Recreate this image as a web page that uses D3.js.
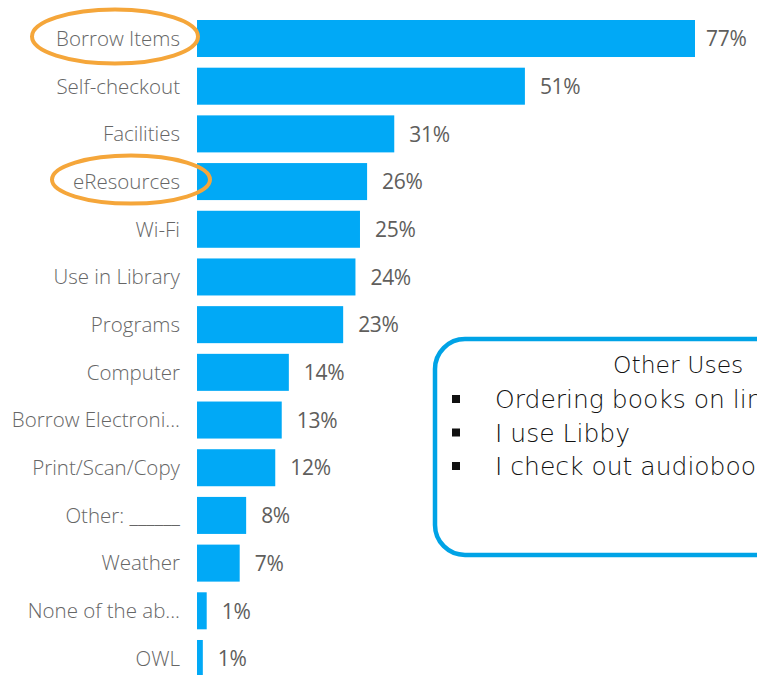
<!DOCTYPE html>
<html>
<head>
<meta charset="utf-8">
<script src="https://cdn.jsdelivr.net/npm/d3@7"></script>
<style>
  body { margin: 0; background: #fff; }
  svg { display: block; }
  .cat { font-family: 'Open Sans', sans-serif; font-weight: 300; font-size: 20.5px; fill: #666; }
  .val { font-family: 'Open Sans', sans-serif; font-size: 21px; fill: #605e5c; letter-spacing: -0.3px; }
  .box-text { font-family: 'DejaVu Sans', sans-serif; font-weight: 200; font-size: 25px; fill: #111; }
  .box-title { font-family: 'DejaVu Sans', sans-serif; font-weight: 200; font-size: 23.5px; fill: #111; }
</style>
</head>
<body>
<script>
// survey answers, top to bottom
const categories = ['Borrow Items', 'Self-checkout', 'Facilities', 'eResources', 'Wi-Fi',
  'Use in Library', 'Programs', 'Computer', 'Borrow Electroni...', 'Print/Scan/Copy',
  'Other: ______', 'Weather', 'None of the ab...', 'OWL'];
const values = [77.0, 50.7, 30.5, 26.3, 25.2, 24.5, 22.6, 14.2, 13.1, 12.1, 7.6, 6.6, 1.5, 0.9];
const valueLabels = ['77%', '51%', '31%', '26%', '25%', '24%', '23%', '14%', '13%', '12%', '8%', '7%', '1%', '1%'];
const highlighted = ['Borrow Items', 'eResources'];
const otherTitle = 'Other Uses';
const otherUses = ['Ordering books on line', 'I use Libby', 'I check out audiobooks'];

const width = 757;
const height = 675;
const barColor = '#01a9f6';

const svg = d3.select('body').append('svg')
  .attr('width', width)
  .attr('height', height);

// scales
const yScale = d3.scaleBand()
  .domain(categories)
  .range([20, 677])
  .paddingInner(0.224)
  .paddingOuter(0);

const xScale = d3.scaleLinear()
  .domain([0, 77])
  .range([197, 695]);

const rows = svg.append('g')
  .selectAll('g')
  .data(categories)
  .join('g');

rows.append('rect')
  .attr('x', xScale(0))
  .attr('y', d => yScale(d))
  .attr('width', (d, i) => xScale(values[i]) - xScale(0))
  .attr('height', yScale.bandwidth())
  .attr('fill', barColor);

// category labels
rows.append('text')
  .attr('class', 'cat')
  .attr('x', 180)
  .attr('y', d => yScale(d) + yScale.bandwidth() / 2)
  .attr('dy', '0.36em')
  .attr('text-anchor', 'end')
  .text(d => d);

// value labels
rows.append('text')
  .attr('class', 'val')
  .attr('x', (d, i) => xScale(values[i]) + (i === 0 ? 11 : 15))
  .attr('y', d => yScale(d) + yScale.bandwidth() / 2)
  .attr('dy', '0.37em')
  .text((d, i) => valueLabels[i]);

// orange circles round the highlighted answers
const ellipses = [
  {key: highlighted[0], cx: 115, rx: 83, ry: 27},
  {key: highlighted[1], cx: 131, rx: 79, ry: 24}
];
svg.append('g')
  .selectAll('ellipse')
  .data(ellipses)
  .join('ellipse')
  .attr('cx', d => d.cx)
  .attr('cy', d => yScale(d.key) + yScale.bandwidth() / 2 - 2)
  .attr('rx', d => d.rx)
  .attr('ry', d => d.ry)
  .attr('fill', 'none')
  .attr('stroke', '#f5a63a')
  .attr('stroke-width', 4);

// "Other Uses" call-out box, runs off the right edge like the slide
const box = svg.append('g');
box.append('rect')
  .attr('x', 435)
  .attr('y', 339)
  .attr('width', 420)
  .attr('height', 216)
  .attr('rx', 30)
  .attr('fill', '#fff')
  .attr('stroke', '#00a3e6')
  .attr('stroke-width', 4.5);

box.append('text')
  .attr('class', 'box-title')
  .attr('x', 613)
  .attr('y', 373)
  .text(otherTitle);

const items = box.selectAll('g.item')
  .data(otherUses)
  .join('g')
  .attr('class', 'item')
  .attr('transform', (d, i) => `translate(0, ${408 + i * 33.5})`);

items.append('rect')
  .attr('x', 452)
  .attr('y', -13)
  .attr('width', 8)
  .attr('height', 8)
  .attr('fill', '#111');

items.append('text')
  .attr('class', 'box-text')
  .attr('x', 495)
  .attr('y', 0)
  .text(d => d);
</script>
</body>
</html>
